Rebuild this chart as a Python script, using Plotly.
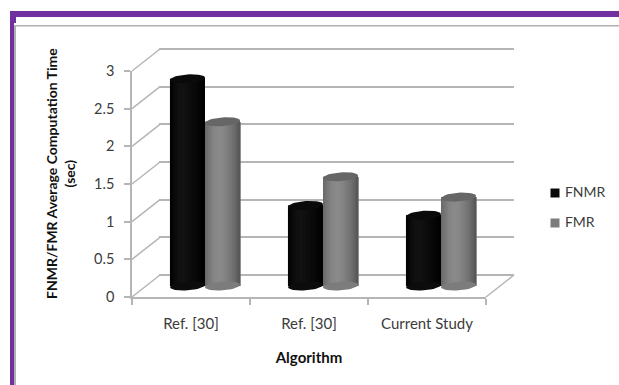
import math
import plotly.graph_objects as go

W, H = 619, 385

categories = ["Ref. [30]", "Ref. [30]", "Current Study"]
fnmr = [2.75, 1.07, 0.94]
fmr = [2.18, 1.45, 1.18]
y_ticks = [0, 0.5, 1, 1.5, 2, 2.5, 3]
y_tick_labels = ["0", "0.5", "1", "1.5", "2", "2.5", "3"]

# Shading runs left to right across each cylinder
fnmr_shades = ["#030303", "#080808", "#0c0c0c", "#101010", "#121212", "#121212", "#101010",
               "#0e0e0e", "#0c0c0c", "#0a0a0a", "#080808", "#050505", "#030303", "#010101"]
fmr_shades = ["#6a6a6a", "#747474", "#7c7c7c", "#848484", "#888888", "#8a8a8a", "#898989",
              "#858585", "#808080", "#7a7a7a", "#747474", "#6c6c6c", "#636363", "#585858"]
fnmr_cap, fmr_cap = "#0a0a0a", "#666666"
fnmr_base, fmr_base = "#0c0c0c", "#7c7c7c"

GRID = "#b5b5b5"
TEXT = "#3c3c3c"
FONT = "Lato"
UNIT = 75.33  # pixels per value unit


def px(x):
    return x / W


def py(y):
    return 1 - y / H


def refine(shades):
    """Insert a midpoint between neighbouring greys for a smoother shading."""
    levels = [int(s[1:3], 16) for s in shades]
    out = []
    for a, b in zip(levels, levels[1:]):
        out += [a, (a + b) // 2]
    out.append(levels[-1])
    return ["#%02x%02x%02x" % (v, v, v) for v in out]


BAR_W = 0.297   # width of one cylinder in category units
CAP_RY = 0.058  # cap half-height in value units
CAP_TILT = 0.016


def cylinder_traces(values, shades, cap, base, start):
    traces = []
    n = len(shades)
    for i, shade in enumerate(shades):
        offset = start + BAR_W * i / n
        traces.append(go.Bar(
            x=[0, 1, 2], y=values, width=BAR_W * (n - i) / n, offset=offset,
            marker=dict(color=shade, line=dict(width=0)),
            xaxis="x3", yaxis="y3", showlegend=False, hoverinfo="skip", cliponaxis=False,
        ))
    for k, v in enumerate(values):
        cx = k + start + BAR_W / 2
        angles = [2 * math.pi * a / 48 for a in range(49)]
        xs = [cx + BAR_W / 2 * math.cos(a) for a in angles]
        top = [v + CAP_RY * math.sin(a) + CAP_TILT * math.cos(a) for a in angles]
        bottom = [CAP_RY * math.sin(a) + CAP_TILT * math.cos(a) for a in angles]
        for ys, color in ((bottom, base), (top, cap)):
            traces.append(go.Scatter(
                x=xs, y=ys, mode="lines", fill="toself", fillcolor=color,
                line=dict(width=0, color=color), xaxis="x3", yaxis="y3",
                showlegend=False, hoverinfo="skip", cliponaxis=False,
            ))
    return traces


fig = go.Figure()

# Empty traces keep the front and back-wall axes alive
fig.add_trace(go.Scatter(x=[None], y=[None], xaxis="x", yaxis="y", showlegend=False))
fig.add_trace(go.Scatter(x=[None], y=[None], xaxis="x2", yaxis="y2", showlegend=False))

for tr in cylinder_traces(fnmr, refine(fnmr_shades), fnmr_cap, fnmr_base, -BAR_W):
    fig.add_trace(tr)
for tr in cylinder_traces(fmr, refine(fmr_shades), fmr_cap, fmr_base, 0):
    fig.add_trace(tr)

# Series key to the right of the plot
for name, pos, color in (("FNMR", 1, "#0a0a0a"), ("FMR", 0, "#7c7c7c")):
    fig.add_trace(go.Scatter(
        x=[0], y=[pos], mode="markers", name=name,
        marker=dict(symbol="square", size=9, color=color),
        xaxis="x4", yaxis="y4", showlegend=False, cliponaxis=False,
    ))
    fig.add_trace(go.Scatter(
        x=[0.22], y=[pos], mode="text", name=name, text=[name],
        textposition="middle right",
        textfont=dict(family=FONT, size=14, color=TEXT),
        xaxis="x4", yaxis="y4", showlegend=False, cliponaxis=False,
    ))

# Page frame and the oblique edges of the 3D box
FRONT_L, FRONT_R, FRONT_T, FRONT_B = 132, 486, 71, 297
DX, DY = 28, -22
shapes = [
    dict(type="rect", xref="paper", yref="paper", x0=px(10), x1=1, y0=py(11), y1=py(17),
         fillcolor="#7030a0", line=dict(width=0), layer="below"),
    dict(type="rect", xref="paper", yref="paper", x0=px(10), x1=px(14), y0=py(11), y1=0,
         fillcolor="#7030a0", line=dict(width=0), layer="below"),
    dict(type="rect", xref="paper", yref="paper", x0=px(10), x1=px(16), y0=py(11), y1=py(23),
         fillcolor="#7030a0", line=dict(width=0), layer="below"),
    dict(type="rect", xref="paper", yref="paper", x0=px(14), x1=1, y0=py(25), y1=py(26.5),
         fillcolor="#b0b0b0", line=dict(width=0), layer="below"),
    dict(type="rect", xref="paper", yref="paper", x0=px(14), x1=px(16), y0=py(25), y1=0,
         fillcolor="#b0b0b0", line=dict(width=0), layer="below"),
    dict(type="line", xref="paper", yref="paper",
         x0=px(FRONT_R), x1=px(FRONT_R + DX), y0=py(FRONT_B), y1=py(FRONT_B + DY),
         line=dict(color=GRID, width=1.5), layer="below"),
]
for t in y_ticks:
    y = FRONT_B - (FRONT_B - FRONT_T) * t / 3
    shapes.append(dict(type="line", xref="paper", yref="paper",
                       x0=px(FRONT_L), x1=px(FRONT_L + DX), y0=py(y), y1=py(y + DY),
                       line=dict(color=GRID, width=1.5), layer="below"))

annotations = [dict(
    text="<b>FNMR/FMR Average Computation Time<br>(sec)</b>", textangle=-90,
    xref="paper", yref="paper", x=px(61), y=py(174), xanchor="center", yanchor="middle",
    showarrow=False, font=dict(family=FONT, size=14, color="#111111"),
)]

fig.update_layout(
    width=W, height=H, margin=dict(l=0, r=0, t=0, b=0), autosize=False,
    paper_bgcolor="white", plot_bgcolor="rgba(0,0,0,0)", barmode="overlay",
    showlegend=False, shapes=shapes, annotations=annotations,
    font=dict(family=FONT, size=15, color=TEXT),
    xaxis=dict(
        domain=[px(FRONT_L), px(FRONT_R)], range=[-0.5, 2.5], anchor="y", automargin=False,
        tickmode="array", tickvals=[0, 1, 2], ticktext=categories, ticks="", ticklabelstandoff=12,
        minor=dict(tickmode="array", tickvals=[-0.5, 0.5, 1.5, 2.5], ticks="outside",
                   ticklen=6, tickcolor=GRID, tickwidth=1.5),
        showline=True, linecolor=GRID, linewidth=1.5, showgrid=False, zeroline=False,
        title=dict(text="<b>Algorithm</b>", standoff=22, font=dict(family=FONT, size=15, color="#111111")),
    ),
    yaxis=dict(
        domain=[py(FRONT_B), py(FRONT_T)], range=[0, 3], anchor="x", automargin=False,
        tickmode="array", tickvals=y_ticks, ticktext=y_tick_labels, ticks="outside",
        ticklen=6, tickcolor=GRID, tickwidth=1.5, ticklabelstandoff=7,
        tickfont=dict(size=14.5),
        showline=True, linecolor=GRID, linewidth=1.5, showgrid=False, zeroline=False,
    ),
    xaxis2=dict(domain=[px(FRONT_L + DX - 1), px(FRONT_R + DX)], range=[0, 1], anchor="y2",
                visible=False, automargin=False),
    yaxis2=dict(domain=[py(FRONT_B + DY + 0.1 * UNIT), py(FRONT_T + DY - 0.1 * UNIT)],
                range=[-0.1, 3.1], anchor="x2",
                automargin=False, tickmode="array", tickvals=y_ticks, ticks="", showticklabels=False,
                showgrid=True, gridcolor=GRID, gridwidth=2, zeroline=False, showline=False),
    xaxis3=dict(domain=[px(146), px(500)], range=[-0.5, 2.5], anchor="y3", visible=False, automargin=False),
    yaxis3=dict(domain=[py(286 + 0.2 * UNIT), py(60)], range=[-0.2, 3], anchor="x3", visible=False,
                automargin=False),
    xaxis4=dict(domain=[px(555), px(600)], range=[0, 1], anchor="y4", visible=False, automargin=False),
    yaxis4=dict(domain=[py(223), py(193)], range=[0, 1], anchor="x4", visible=False, automargin=False),
)

fig.write_html("out.html")
